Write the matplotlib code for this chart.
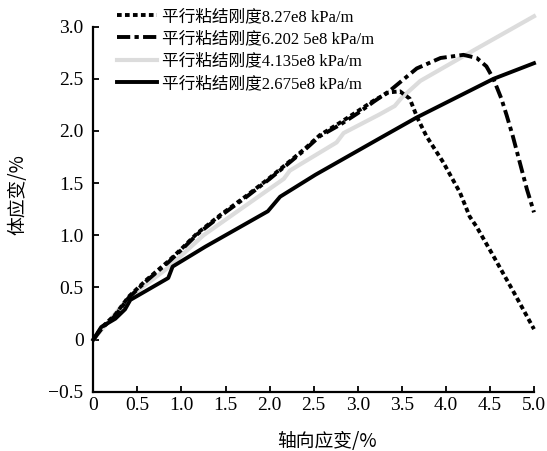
import matplotlib
matplotlib.use("Agg")
import matplotlib.pyplot as plt

# Axial strain (%) and volumetric strain (%) for four parallel-bond stiffness values
strain_827 = [0, 0.10, 0.25, 0.40, 0.60, 0.85, 1.00, 1.18, 1.45, 1.74, 2.00, 2.23, 2.40,
              2.57, 2.80, 3.00, 3.18, 3.35, 3.48, 3.59, 3.68, 3.78, 3.97, 4.16, 4.27,
              4.35, 4.54, 4.76, 5.00]
vol_827 = [0, 0.12, 0.24, 0.41, 0.57, 0.75, 0.87, 1.02, 1.20, 1.38, 1.55, 1.71, 1.83,
           1.96, 2.08, 2.19, 2.29, 2.37, 2.38, 2.31, 2.12, 1.95, 1.70, 1.41, 1.18,
           1.08, 0.80, 0.47, 0.10]

strain_620 = [0, 0.10, 0.25, 0.40, 0.60, 0.85, 1.00, 1.18, 1.45, 1.74, 2.00, 2.23, 2.40,
              2.57, 2.80, 3.00, 3.18, 3.37, 3.67, 3.94, 4.20, 4.35, 4.46, 4.54, 4.63,
              4.69, 4.76, 4.92, 5.00]
vol_620 = [0, 0.11, 0.23, 0.40, 0.56, 0.74, 0.86, 1.01, 1.19, 1.37, 1.54, 1.70, 1.82,
           1.95, 2.06, 2.17, 2.28, 2.39, 2.60, 2.70, 2.73, 2.70, 2.62, 2.50, 2.31,
           2.15, 1.95, 1.44, 1.22]

strain_414 = [0, 0.10, 0.40, 0.85, 1.25, 1.67, 2.16, 2.23, 2.76, 2.84, 3.25, 3.42, 3.50,
              3.71, 4.35, 5.00]
vol_414 = [0, 0.10, 0.40, 0.69, 1.00, 1.25, 1.54, 1.62, 1.89, 1.98, 2.16, 2.24, 2.32,
           2.48, 2.79, 3.10]

strain_268 = [0, 0.09, 0.25, 0.36, 0.42, 0.85, 0.90, 1.27, 1.98, 2.12, 2.52, 3.25, 3.67,
              4.54, 5.00]
vol_268 = [0, 0.12, 0.20, 0.29, 0.38, 0.59, 0.70, 0.89, 1.23, 1.37, 1.58, 1.93, 2.13,
           2.50, 2.65]

labels = ["平行粘结刚度8.27e8 kPa/m",
          "平行粘结刚度6.202 5e8 kPa/m",
          "平行粘结刚度4.135e8 kPa/m",
          "平行粘结刚度2.675e8 kPa/m"]

x_ticks = [0, 0.5, 1.0, 1.5, 2.0, 2.5, 3.0, 3.5, 4.0, 4.5, 5.0]
x_ticklabels = ["0", "0.5", "1.0", "1.5", "2.0", "2.5", "3.0", "3.5", "4.0", "4.5", "5.0"]
y_ticks = [-0.5, 0, 0.5, 1.0, 1.5, 2.0, 2.5, 3.0]
y_ticklabels = ["\u22120.5", "0", "0.5", "1.0", "1.5", "2.0", "2.5", "3.0"]

serif = ["Liberation Serif", "Noto Sans CJK SC", "DejaVu Sans"]
cjk = ["Noto Sans CJK SC", "DejaVu Sans"]
plt.rcParams["font.family"] = serif

fig = plt.figure(figsize=(5.47, 4.51), dpi=100)
ax = fig.add_axes([0.1706, 0.1315, 0.8056, 0.8093])

lw = 2.8
l1, = ax.plot(strain_827, vol_827, color="black", lw=lw, linestyle=(0, (1.2, 0.85)),
              zorder=4, clip_on=False)
l2, = ax.plot(strain_620, vol_620, color="black", lw=lw,
              linestyle=(0, (3.4, 1.1, 1.1, 1.1)), zorder=4, clip_on=False)
l3, = ax.plot(strain_414, vol_414, color="#dcdcdc", lw=3.0, zorder=2, clip_on=False)
l4, = ax.plot(strain_268, vol_268, color="black", lw=lw, zorder=3, clip_on=False)

ax.set_xlim(0, 5)
ax.set_ylim(-0.5, 3.0)
ax.set_xticks(x_ticks)
ax.set_xticklabels(x_ticklabels)
ax.set_yticks(y_ticks)
ax.set_yticklabels(y_ticklabels)

for side in ("top", "right"):
    ax.spines[side].set_visible(False)
for side in ("left", "bottom"):
    ax.spines[side].set_linewidth(1.6)

ax.tick_params(axis="both", direction="in", length=4, width=1.3, labelsize=14)
ax.tick_params(axis="x", pad=4)
ax.tick_params(axis="y", pad=7)

fig.text(327 / 547, 1 - 442 / 451, "轴向应变/%", ha="center", va="center",
         fontsize=13.5, family=cjk)
fig.text(18 / 547, 1 - 195 / 451, "体应变/%", ha="center", va="center",
         rotation=90, fontsize=13.5, family=cjk)

ax.legend([l1, l2, l3, l4], labels, loc="upper left",
          bbox_to_anchor=(117 / 547, 1 - 9 / 451), bbox_transform=fig.transFigure,
          frameon=False, borderpad=0, borderaxespad=0, handlelength=2.4,
          handletextpad=0.3, labelspacing=0.38,
          prop={"family": serif, "size": 12})

fig.savefig("out.png", dpi=100)
